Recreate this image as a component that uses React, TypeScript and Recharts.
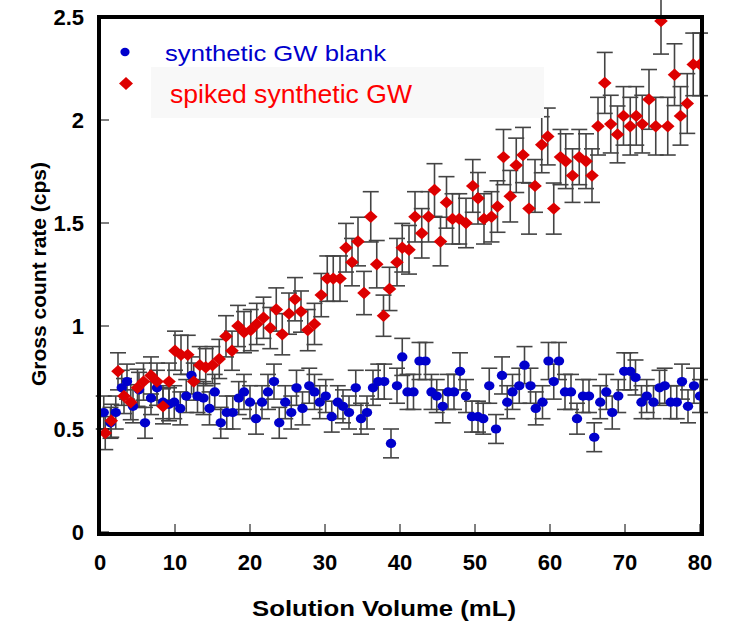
import { ScatterChart, Scatter, XAxis, YAxis, ErrorBar } from "recharts";

// synthetic GW blank
const blankVolume = [
  0.5, 1.4, 2.1, 2.9, 3.6, 4.4, 5.2, 6.0, 6.8, 7.6, 8.4, 9.2, 9.9, 10.7, 11.5, 12.2,
  13.0, 13.8, 14.6, 15.3, 16.1, 16.9, 17.7, 18.5, 19.2, 20.0, 20.8, 21.6, 22.4, 23.2,
  23.9, 24.7, 25.5, 26.2, 27.0, 27.9, 28.6, 29.3, 30.1, 30.9, 31.7, 32.4, 33.2, 34.1,
  34.8, 35.6, 36.4, 37.1, 37.9, 38.8, 39.6, 40.3, 41.0, 41.8, 42.6, 43.4, 44.2, 44.9,
  45.7, 46.4, 47.2, 48.0, 48.8, 49.6, 50.4, 51.1, 51.9, 52.8, 53.6, 54.3, 55.0, 55.9,
  56.6, 57.4, 58.1, 59.0, 59.8, 60.5, 61.2, 62.0, 62.8, 63.6, 64.4, 65.2, 65.9, 66.7,
  67.5, 68.3, 69.1, 69.9, 70.7, 71.4, 72.2, 72.9, 73.8, 74.6, 75.3, 76.1, 76.9, 77.6,
  78.4, 79.2, 80.0,
];
const blankRate = [
  0.58, 0.53, 0.58, 0.7, 0.73, 0.61, 0.69, 0.53, 0.65, 0.7, 0.63, 0.62, 0.63, 0.6, 0.66, 0.76,
  0.66, 0.65, 0.6, 0.68, 0.53, 0.58, 0.58, 0.65, 0.68, 0.63, 0.55, 0.63, 0.68, 0.73,
  0.53, 0.63, 0.58, 0.7, 0.6, 0.71, 0.68, 0.63, 0.66, 0.56, 0.63, 0.61, 0.58, 0.7,
  0.55, 0.58, 0.7, 0.73, 0.73, 0.43, 0.71, 0.85, 0.68, 0.68, 0.83, 0.83, 0.68, 0.66,
  0.61, 0.68, 0.68, 0.78, 0.66, 0.56, 0.56, 0.55, 0.71, 0.5, 0.76, 0.63, 0.68, 0.71,
  0.81, 0.71, 0.6, 0.63, 0.83, 0.73, 0.83, 0.68, 0.68, 0.55, 0.66, 0.66, 0.46, 0.63,
  0.68, 0.58, 0.66, 0.78, 0.78, 0.75, 0.63, 0.66, 0.63, 0.7, 0.71, 0.63, 0.63, 0.73,
  0.61, 0.71, 0.66,
];
const blankErr = [
  0.08, 0.075, 0.08, 0.085, 0.085, 0.08, 0.085, 0.075, 0.08, 0.085, 0.08, 0.08, 0.08, 0.08, 0.08, 0.09,
  0.08, 0.08, 0.08, 0.085, 0.075, 0.08, 0.08, 0.08, 0.085, 0.08, 0.075, 0.08, 0.085, 0.085,
  0.075, 0.08, 0.08, 0.085, 0.08, 0.085, 0.085, 0.08, 0.08, 0.075, 0.08, 0.08, 0.08, 0.085,
  0.075, 0.08, 0.085, 0.085, 0.085, 0.07, 0.085, 0.09, 0.085, 0.085, 0.09, 0.09, 0.085, 0.08,
  0.08, 0.085, 0.085, 0.09, 0.08, 0.075, 0.075, 0.075, 0.085, 0.07, 0.09, 0.08, 0.085, 0.085,
  0.09, 0.085, 0.08, 0.08, 0.09, 0.085, 0.09, 0.085, 0.085, 0.075, 0.08, 0.08, 0.07, 0.08,
  0.085, 0.08, 0.08, 0.09, 0.09, 0.085, 0.08, 0.08, 0.08, 0.085, 0.085, 0.08, 0.08, 0.085,
  0.08, 0.085, 0.08,
];

// spiked synthetic GW
const spikedVolume = [
  0.7, 1.5, 2.4, 3.2, 4.1, 5.0, 5.8, 6.8, 7.6, 8.4, 9.2, 10.0, 10.8, 11.7, 12.5, 13.3,
  14.1, 15.0, 15.9, 16.8, 17.6, 18.4, 19.2, 20.1, 20.9, 21.8, 22.7, 23.5, 24.3, 25.2,
  26.0, 26.8, 27.7, 28.6, 29.5, 30.3, 31.1, 32.0, 32.8, 33.6, 34.4, 35.2, 36.1, 36.9,
  37.8, 38.6, 39.6, 40.3, 41.2, 42.0, 42.9, 43.8, 44.6, 45.4, 46.2, 47.0, 47.9, 48.8,
  49.7, 50.4, 51.2, 52.2, 53.0, 53.8, 54.7, 55.5, 56.4, 57.2, 58.0, 58.9, 59.7, 60.5,
  61.4, 62.1, 63.0, 63.9, 64.8, 65.6, 66.4, 67.3, 68.1, 69.0, 69.8, 70.7, 71.5, 72.3,
  73.2, 74.1, 74.8, 75.7, 76.6, 77.4, 78.3, 79.1, 80.0,
];
const spikedRate = [
  0.48, 0.54, 0.78, 0.66, 0.63, 0.7, 0.73, 0.76, 0.73, 0.61, 0.73, 0.88, 0.86, 0.86, 0.73, 0.81,
  0.8, 0.81, 0.84, 0.95, 0.88, 1.0, 0.97, 0.98, 1.01, 1.04, 0.99, 1.08, 0.96, 1.06,
  1.13, 1.07, 0.98, 1.01, 1.15, 1.23, 1.23, 1.23, 1.38, 1.31, 1.41, 1.16, 1.53, 1.3,
  1.05, 1.18, 1.31, 1.38, 1.37, 1.53, 1.45, 1.53, 1.66, 1.41, 1.6, 1.52, 1.52, 1.5,
  1.68, 1.62, 1.52, 1.53, 1.58, 1.82, 1.63, 1.78, 1.83, 1.57, 1.68, 1.88, 1.92, 1.57,
  1.82, 1.8, 1.73, 1.82, 1.8, 1.73, 1.97, 2.18, 1.98, 1.93, 2.02, 1.97, 2.02, 1.98,
  2.1, 1.97, 2.48, 1.97, 2.22, 2.02, 2.08, 2.27, 2.27,
];
const spikedErr = [
  0.08, 0.08, 0.09, 0.085, 0.085, 0.09, 0.09, 0.09, 0.09, 0.085, 0.09, 0.095, 0.095, 0.095, 0.09, 0.09,
  0.09, 0.09, 0.095, 0.1, 0.095, 0.1, 0.1, 0.1, 0.1, 0.1, 0.1, 0.105, 0.1, 0.1,
  0.105, 0.1, 0.1, 0.1, 0.105, 0.11, 0.11, 0.11, 0.118, 0.115, 0.118, 0.105, 0.122, 0.115,
  0.1, 0.105, 0.115, 0.118, 0.118, 0.122, 0.12, 0.122, 0.128, 0.118, 0.125, 0.122, 0.122, 0.12,
  0.128, 0.125, 0.122, 0.122, 0.125, 0.134, 0.125, 0.132, 0.134, 0.124, 0.128, 0.136, 0.138, 0.124,
  0.134, 0.133, 0.13, 0.134, 0.133, 0.13, 0.14, 0.148, 0.14, 0.138, 0.142, 0.14, 0.142, 0.14,
  0.145, 0.14, 0.16, 0.14, 0.15, 0.142, 0.145, 0.152, 0.152,
];

const volumeTicks = [0, 10, 20, 30, 40, 50, 60, 70, 80];
const rateTicks = [0, 0.5, 1, 1.5, 2, 2.5];

const blankData = blankVolume.map((v, i) => ({ x: v, y: blankRate[i], err: blankErr[i] }));
const spikedData = spikedVolume.map((v, i) => ({ x: v, y: spikedRate[i], err: spikedErr[i] }));

const FONT = "'Liberation Sans', Arial, sans-serif";
const BLUE = "#0000cc";
const RED = "#dd0000";

const BlueDot = (props: any) => (
  <ellipse cx={props.cx} cy={props.cy} rx={5.2} ry={4.6} fill={BLUE} />
);

const RedDiamond = (props: any) => {
  const { cx, cy } = props;
  return (
    <polygon
      points={`${cx},${cy - 6.2} ${cx + 6.8},${cy} ${cx},${cy + 6.2} ${cx - 6.8},${cy}`}
      fill={RED}
    />
  );
};

const tickLine = { stroke: "#000", strokeWidth: 1 };
const tickText = { fill: "#000", fontSize: 22, fontWeight: "bold", fontFamily: FONT };

export default function App() {
  return (
    <div style={{ position: "absolute", left: 0, top: 0, width: 730, height: 627, background: "#fff" }}>
      <ScatterChart width={730} height={627} margin={{ top: 16, right: 29, bottom: 0, left: 0 }}>
        <XAxis
          xAxisId="b"
          type="number"
          dataKey="x"
          domain={[0, 80]}
          ticks={volumeTicks}
          interval={0}
          orientation="bottom"
          height={95}
          axisLine={false}
          tickLine={tickLine}
          tickSize={-8}
          tickMargin={30}
          tick={tickText}
          allowDataOverflow
        />
        <XAxis
          xAxisId="t"
          type="number"
          domain={[0, 80]}
          ticks={volumeTicks}
          interval={0}
          orientation="top"
          height={1}
          axisLine={false}
          tickLine={tickLine}
          tickSize={-8}
          tick={false}
        />
        <YAxis
          yAxisId="l"
          type="number"
          dataKey="y"
          domain={[0, 2.5]}
          ticks={rateTicks}
          interval={0}
          width={100}
          axisLine={false}
          tickLine={tickLine}
          tickSize={-9}
          tickMargin={25}
          tick={tickText}
          allowDataOverflow
        />
        <YAxis
          yAxisId="r"
          type="number"
          domain={[0, 2.5]}
          ticks={rateTicks}
          interval={0}
          orientation="right"
          width={1}
          axisLine={false}
          tickLine={tickLine}
          tickSize={-9}
          tick={false}
        />
        <Scatter data={blankData} xAxisId="b" yAxisId="l" shape={<BlueDot />} isAnimationActive={false}>
          <ErrorBar dataKey="err" direction="y" width={8} stroke="#444" strokeWidth={1.6} isAnimationActive={false} />
        </Scatter>
        <Scatter data={spikedData} xAxisId="b" yAxisId="l" shape={<RedDiamond />} isAnimationActive={false}>
          <ErrorBar dataKey="err" direction="y" width={8} stroke="#444" strokeWidth={1.6} isAnimationActive={false} />
        </Scatter>
      </ScatterChart>
      <svg
        width={730}
        height={627}
        style={{ position: "absolute", left: 0, top: 0, pointerEvents: "none" }}
      >
        {/* plot frame */}
        <rect x={99} y={17} width={603} height={517} fill="none" stroke="#000" strokeWidth={4} />
        <rect x={151} y={67} width={393} height={51} fill="#f8f8f8" />
        <ellipse cx={125} cy={52} rx={4.6} ry={4.2} fill={BLUE} />
        <text x={165} y={61} fontSize={22} fill={BLUE} fontFamily={FONT} textLength={221} lengthAdjust="spacingAndGlyphs">
          synthetic GW blank
        </text>
        <polygon points="126,77 133,83.5 126,90 119,83.5" fill={RED} />
        <text x={170} y={103} fontSize={26} fill="#ff0000" fontFamily={FONT} textLength={242} lengthAdjust="spacingAndGlyphs">
          spiked synthetic GW
        </text>
        <text
          x={384}
          y={616}
          textAnchor="middle"
          fontSize={22}
          fontWeight="bold"
          fontFamily={FONT}
          textLength={264}
          lengthAdjust="spacingAndGlyphs"
        >
          Solution Volume (mL)
        </text>
        <text
          transform="translate(46,274) rotate(-90)"
          textAnchor="middle"
          fontSize={20}
          fontWeight="bold"
          fontFamily={FONT}
          textLength={224}
          lengthAdjust="spacingAndGlyphs"
        >
          Gross count rate (cps)
        </text>
      </svg>
    </div>
  );
}
